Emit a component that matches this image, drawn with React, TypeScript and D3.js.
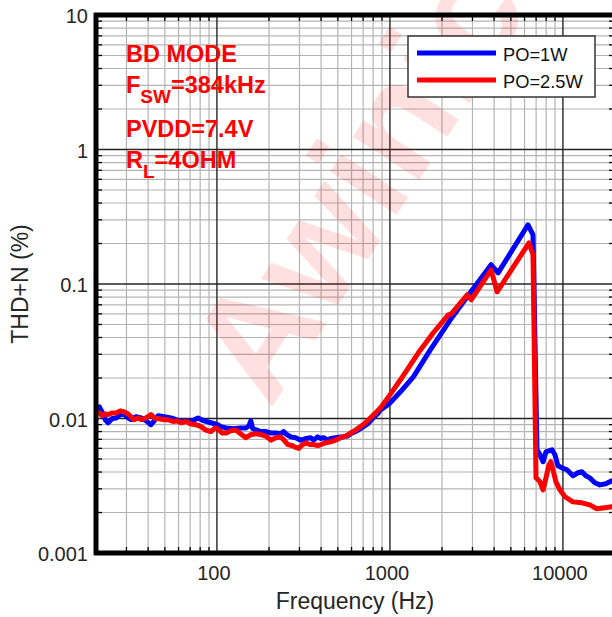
import React from 'react';
import * as d3 from 'd3';

// PO = 1W (blue)
const freqBlue = [20, 20.9, 21.7, 22.6, 23.5, 24.8, 26.2, 27.6, 29.1, 30.7, 31.9, 34.1, 36.5, 39.0, 41.6, 43.4, 45.7, 49.5, 54.3, 58.0, 62.0, 66.3, 70.8, 77.7, 84.2, 92.3, 101, 105, 113, 125, 137, 147, 153, 157, 161, 170, 179, 192, 205, 219, 234, 243, 250, 267, 285, 305, 326, 348, 362, 382, 398, 414, 436, 454, 485, 518, 540, 569, 592, 633, 676, 703, 742, 793, 847, 882, 993, 1150, 1366, 1712, 2233, 2911, 3846, 4221, 6285, 6715, 7082, 7370, 7674, 7980, 8307, 8643, 8994, 9355, 9867, 10544, 11418, 12205, 12870, 13570, 14309, 15290, 16340, 17690, 19160, 20000];
const thdBlue = [0.0118, 0.0122, 0.0112, 0.0098, 0.0093, 0.0100, 0.0101, 0.0107, 0.0107, 0.0101, 0.0098, 0.0103, 0.0101, 0.0096, 0.0090, 0.0096, 0.0105, 0.0103, 0.0101, 0.0098, 0.0095, 0.0096, 0.0095, 0.0101, 0.0096, 0.0093, 0.0090, 0.0087, 0.0085, 0.0084, 0.0085, 0.0085, 0.0088, 0.0096, 0.0084, 0.0082, 0.0080, 0.0080, 0.0078, 0.0078, 0.0077, 0.0080, 0.0077, 0.0073, 0.0072, 0.0069, 0.0071, 0.0072, 0.0069, 0.0073, 0.0071, 0.0072, 0.0069, 0.0071, 0.0072, 0.0073, 0.0073, 0.0074, 0.0077, 0.0080, 0.0084, 0.0087, 0.0091, 0.0100, 0.0108, 0.0116, 0.0129, 0.0158, 0.0204, 0.0324, 0.0542, 0.0860, 0.139, 0.121, 0.2755, 0.232, 0.00585, 0.00537, 0.00477, 0.00565, 0.00575, 0.00585, 0.00537, 0.00445, 0.00430, 0.00416, 0.00375, 0.00395, 0.00402, 0.00375, 0.00362, 0.00333, 0.00321, 0.00327, 0.00344, 0.00350];

// PO = 2.5W (red)
const freqRed = [20, 20.9, 21.7, 22.6, 23.5, 24.8, 26.2, 27.6, 29.1, 30.7, 31.9, 33.2, 35.1, 36.5, 39.0, 41.6, 43.9, 45.7, 49.5, 52.2, 55.8, 58.8, 62.0, 66.3, 70.8, 75.7, 80.9, 86.4, 92.3, 97.4, 101, 107, 113, 120, 129, 137, 147, 157, 170, 179, 192, 205, 219, 234, 247, 257, 271, 285, 297, 309, 326, 344, 362, 382, 398, 425, 454, 485, 518, 554, 592, 633, 676, 722, 772, 825, 882, 993, 1150, 1460, 1782, 2174, 2262, 2797, 2949, 3846, 4165, 6369, 6715, 6989, 7370, 7674, 7980, 8307, 8527, 8759, 9114, 9610, 10269, 11418, 12870, 14309, 15703, 17460, 19160, 20000];
const thdRed = [0.0112, 0.0110, 0.0105, 0.0108, 0.0107, 0.0110, 0.0110, 0.0114, 0.0112, 0.0108, 0.0103, 0.0098, 0.0101, 0.0098, 0.0101, 0.0107, 0.0100, 0.0100, 0.0098, 0.0098, 0.0095, 0.0096, 0.0093, 0.0095, 0.0091, 0.0090, 0.0087, 0.0082, 0.0080, 0.0085, 0.0084, 0.0078, 0.0078, 0.0081, 0.0082, 0.0077, 0.0072, 0.0076, 0.0077, 0.0076, 0.0074, 0.0069, 0.0072, 0.0073, 0.0068, 0.0064, 0.0063, 0.0061, 0.0060, 0.0063, 0.0066, 0.0064, 0.0064, 0.0063, 0.0064, 0.0066, 0.0067, 0.0069, 0.0072, 0.0074, 0.0078, 0.0082, 0.0087, 0.0093, 0.0101, 0.0110, 0.0120, 0.0148, 0.0194, 0.0308, 0.0434, 0.0590, 0.0600, 0.0832, 0.0763, 0.1275, 0.0875, 0.2024, 0.165, 0.00362, 0.00338, 0.00295, 0.00362, 0.00453, 0.00477, 0.00416, 0.00338, 0.00295, 0.00262, 0.00240, 0.00236, 0.00228, 0.00213, 0.00217, 0.00221, 0.00221];

const xTickValues = [100, 1000, 10000];
const xTickLabels = ['100', '1000', '10000'];
const yTickValues = [0.001, 0.01, 0.1, 1, 10];
const yTickLabels = ['0.001', '0.01', '0.1', '1', '10'];
const legendLabels = ['PO=1W', 'PO=2.5W'];
const seriesColors = ['#0000ff', '#ff0000'];
const annotationLines = ['BD MODE', 'PVDD=7.4V'];
const watermarkText = 'Awinic';

const FONT = "Arial, 'Liberation Sans', Helvetica, sans-serif";

export default function App() {
  const W = 612, H = 617;
  const L = 96, R = 615, T = 15, B = 553;
  const x = d3.scaleLog().domain([20, 20000]).range([L, R]);
  const y = d3.scaleLog().domain([0.001, 10]).range([B, T]);

  const xMinor: number[] = [];
  [10, 100, 1000, 10000].forEach(d => {
    for (let k = 2; k <= 9; k++) {
      const v = k * d;
      if (v >= 20 && v <= 20000) xMinor.push(v);
    }
  });
  const yMinor: number[] = [];
  [0.001, 0.01, 0.1, 1].forEach(d => {
    for (let k = 2; k <= 9; k++) yMinor.push(k * d);
  });

  const line = d3.line<[number, number]>().x(d => x(d[0])).y(d => y(d[1]));
  const blue = line(freqBlue.map((f, i) => [f, thdBlue[i]] as [number, number])) || '';
  const red = line(freqRed.map((f, i) => [f, thdRed[i]] as [number, number])) || '';

  return (
    <svg width={W} height={H} style={{ position: 'absolute', left: 0, top: 0, background: '#fff' }} fontFamily={FONT}>
      <defs>
        <clipPath id="plotclip">
          <rect x={L} y={T} width={R - L} height={B - T} />
        </clipPath>
      </defs>
      <rect x={0} y={0} width={W} height={H} fill="#fff" />
      {/* minor grid */}
      {xMinor.map((v, i) => (
        <line key={'xm' + i} x1={x(v)} x2={x(v)} y1={T} y2={B} stroke="#b4b4b4" strokeWidth={1.2} />
      ))}
      {yMinor.map((v, i) => (
        <line key={'ym' + i} x1={L} x2={R} y1={y(v)} y2={y(v)} stroke="#b4b4b4" strokeWidth={1.2} />
      ))}
      {/* major grid */}
      {xTickValues.map((v, i) => (
        <line key={'xM' + i} x1={x(v)} x2={x(v)} y1={T} y2={B} stroke="#262626" strokeWidth={1.4} />
      ))}
      {yTickValues.slice(1, 4).map((v, i) => (
        <line key={'yM' + i} x1={L} x2={R} y1={y(v)} y2={y(v)} stroke="#262626" strokeWidth={1.4} />
      ))}
      {/* watermark */}
      <text x={270} y={410} transform="rotate(-57 270 410)" fontSize={150} fontWeight="bold" fill="#ff0000" fillOpacity={0.12}>{watermarkText}</text>
      {/* curves */}
      <g clipPath="url(#plotclip)" fill="none" strokeWidth={5} strokeLinejoin="round" strokeLinecap="round">
        <path d={blue} stroke={seriesColors[0]} />
        <path d={red} stroke={seriesColors[1]} />
      </g>
      {/* ticks */}
      {xMinor.map((v, i) => (
        <g key={'xt' + i}>
          <line x1={x(v)} x2={x(v)} y1={B} y2={B - 6} stroke="#000" strokeWidth={1.3} />
          <line x1={x(v)} x2={x(v)} y1={T} y2={T + 6} stroke="#000" strokeWidth={1.3} />
        </g>
      ))}
      {yMinor.map((v, i) => (
        <g key={'yt' + i}>
          <line x1={L} x2={L + 6} y1={y(v)} y2={y(v)} stroke="#000" strokeWidth={1.3} />
          <line x1={R} x2={R - 6} y1={y(v)} y2={y(v)} stroke="#000" strokeWidth={1.3} />
        </g>
      ))}
      {/* axes frame */}
      <line x1={L - 2} x2={R} y1={T} y2={T} stroke="#000" strokeWidth={5} />
      <line x1={L - 2} x2={R} y1={B} y2={B} stroke="#000" strokeWidth={5} />
      <line x1={L} x2={L} y1={T - 2} y2={B + 2} stroke="#000" strokeWidth={5} />
      <line x1={R} x2={R} y1={T - 2} y2={B + 2} stroke="#000" strokeWidth={5} />
      {/* tick labels */}
      {xTickValues.map((v, i) => (
        <text key={'xl' + i} x={x(v) - 3} y={580} textAnchor="middle" fontSize={20} fill="#262626">{xTickLabels[i]}</text>
      ))}
      {yTickValues.map((v, i) => (
        <text key={'yl' + i} x={88} y={y(v) + 8} textAnchor="end" fontSize={20} fill="#262626">{yTickLabels[i]}</text>
      ))}
      {/* axis titles */}
      <text x={355} y={609} textAnchor="middle" fontSize={23} fill="#262626">Frequency (Hz)</text>
      <text transform={`translate(28, ${(T + B) / 2}) rotate(-90)`} textAnchor="middle" fontSize={23} fill="#262626">THD+N (%)</text>
      {/* annotations */}
      <g fill="#ff0000" fontWeight="bold" fontSize={23.5}>
        <text x={126} y={61.5}>{annotationLines[0]}</text>
        <text x={126} y={93}>F<tspan fontSize={19} dy={10}>SW</tspan><tspan dy={-10}>=384kHz</tspan></text>
        <text x={126} y={136.5}>{annotationLines[1]}</text>
        <text x={126} y={168}>R<tspan fontSize={19} dy={10}>L</tspan><tspan dy={-10}>=4OHM</tspan></text>
      </g>
      {/* legend */}
      <rect x={408} y={36} width={187} height={61} fill="#fff" stroke="#333" strokeWidth={1.5} />
      {legendLabels.map((lab, i) => (
        <g key={'lg' + i}>
          <line x1={417} x2={496} y1={53 + i * 27} y2={53 + i * 27} stroke={seriesColors[i]} strokeWidth={5} />
          <text x={503} y={60.5 + i * 27} fontSize={18.3} fill="#111">{lab}</text>
        </g>
      ))}
    </svg>
  );
}
